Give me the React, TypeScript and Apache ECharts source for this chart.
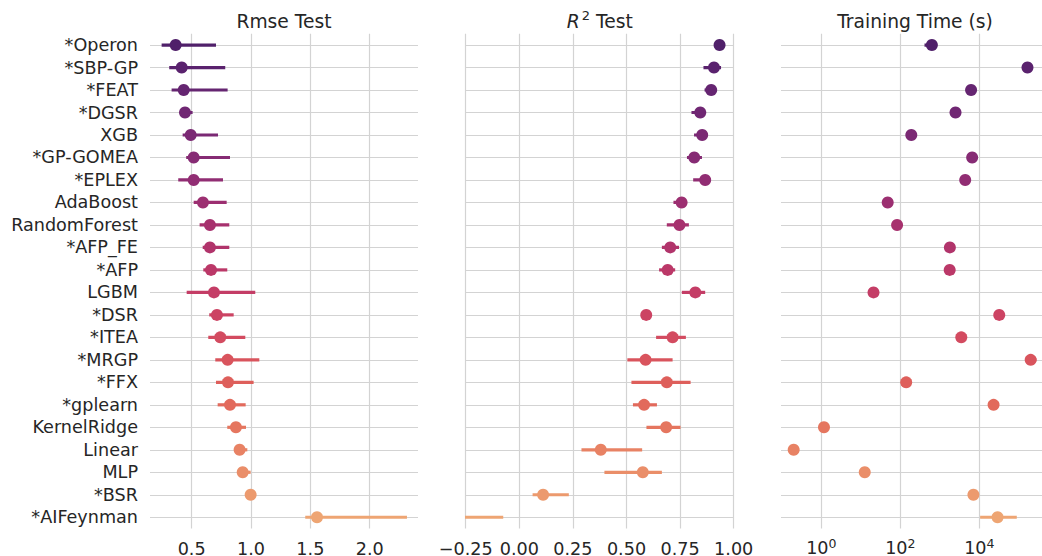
import React, { useEffect, useRef } from 'react';
import * as echarts from 'echarts';

const methods = ['*Operon', '*SBP-GP', '*FEAT', '*DGSR', 'XGB', '*GP-GOMEA', '*EPLEX', 'AdaBoost', 'RandomForest', '*AFP_FE', '*AFP', 'LGBM', '*DSR', '*ITEA', '*MRGP', '*FFX', '*gplearn', 'KernelRidge', 'Linear', 'MLP', '*BSR', '*AIFeynman'];
const rowIndex = [0, 1, 2, 3, 4, 5, 6, 7, 8, 9, 10, 11, 12, 13, 14, 15, 16, 17, 18, 19, 20, 21];

const rmseMid = [0.365, 0.416, 0.433, 0.444, 0.492, 0.517, 0.517, 0.595, 0.654, 0.654, 0.663, 0.688, 0.713, 0.741, 0.803, 0.806, 0.823, 0.873, 0.904, 0.93, 0.997, 1.556];
const rmseLow = [0.247, 0.311, 0.331, 0.416, 0.424, 0.454, 0.387, 0.517, 0.567, 0.593, 0.598, 0.458, 0.648, 0.64, 0.699, 0.705, 0.719, 0.8, 0.879, 0.885, 0.99, 1.457];
const rmseHigh = [0.705, 0.783, 0.803, 0.508, 0.722, 0.823, 0.764, 0.795, 0.817, 0.817, 0.8, 1.036, 0.854, 0.952, 1.07, 1.022, 0.955, 0.958, 0.969, 0.997, 1.0, 2.314];

const r2Mid = [0.934, 0.908, 0.895, 0.844, 0.853, 0.816, 0.867, 0.757, 0.747, 0.704, 0.692, 0.821, 0.592, 0.715, 0.589, 0.688, 0.582, 0.685, 0.38, 0.576, 0.111, -0.6];
const r2Low = [0.925, 0.859, 0.864, 0.803, 0.815, 0.782, 0.811, 0.719, 0.688, 0.665, 0.652, 0.758, 0.585, 0.638, 0.504, 0.523, 0.53, 0.593, 0.29, 0.397, 0.062, -1.3];
const r2High = [0.94, 0.941, 0.919, 0.867, 0.878, 0.852, 0.894, 0.782, 0.791, 0.745, 0.727, 0.867, 0.6, 0.777, 0.715, 0.799, 0.642, 0.752, 0.573, 0.665, 0.231, -0.075];

const timeMid = [630, 166000, 6200, 2500, 190, 6600, 4400, 48, 83, 1800, 1780, 21, 32000, 3500, 200000, 141, 23000, 1.17, 0.2, 12.6, 7100, 29000];
const timeLow = [410, 150000, 5800, 2300, 180, 6200, 4100, 45, 79, 1700, 1700, 20, 30000, 3300, 178000, 135, 21500, 1.1, 0.19, 12, 6800, 10500];
const timeHigh = [800, 180000, 6600, 2700, 200, 7000, 4700, 51, 88, 1900, 1860, 22, 34000, 3700, 280000, 148, 24500, 1.25, 0.21, 13.2, 7400, 89000];

const rmseTicks = [0.5, 1.0, 1.5, 2.0];
const r2Ticks = [-0.25, 0, 0.25, 0.5, 0.75, 1.0];
const timeTicks = [1, 100, 10000];

const palette = ['#50206a', '#5a226e', '#652571', '#702773', '#7b2974', '#862b74', '#912d73', '#9c2f71', '#a7316e', '#b1346b', '#bb3868', '#c43d66', '#cc4363', '#d34b60', '#d9545d', '#de5f5b', '#e26a5c', '#e5765f', '#e88264', '#ea8e69', '#ec9a6e', '#eea573'];

const FONT = '"DejaVu Sans", sans-serif';
const TXT = '#262626';
const GRIDC = '#d3d3d3';

export default function App() {
  const ref = useRef<HTMLDivElement>(null);
  useEffect(() => {
    if (!ref.current) return;
    const chart = echarts.init(ref.current, undefined, { renderer: 'svg' });
    const lefts = [150, 465.7, 781];
    const grids = lefts.map((left) => ({ left, top: 33.8, width: 268, height: 494.7, containLabel: false, outerBoundsMode: 'none' }));
    const splitLine = { show: true, lineStyle: { color: GRIDC, width: 1.2 } };
    const labelBase = { fontSize: 17.6, color: TXT, fontFamily: FONT };
    const xAxes: any[] = [
      {
        gridIndex: 0, type: 'value', min: 0.149, max: 2.407,
        axisLine: { show: false }, axisTick: { show: false, customValues: rmseTicks },
        axisLabel: { ...labelBase, margin: 11, customValues: rmseTicks, formatter: (v: number) => v.toFixed(1) },
        splitLine,
      },
      {
        gridIndex: 1, type: 'value', min: -0.25, max: 1.0,
        axisLine: { show: false }, axisTick: { show: false, customValues: r2Ticks },
        axisLabel: { ...labelBase, margin: 11, customValues: r2Ticks, formatter: (v: number) => v.toFixed(2).replace('-', '\u2212') },
        splitLine,
      },
      {
        gridIndex: 2, type: 'log', logBase: 10, min: 0.0955, max: 582000,
        axisLine: { show: false }, axisTick: { show: false, customValues: timeTicks },
        axisLabel: {
          ...labelBase, margin: 8, customValues: timeTicks,
          formatter: (v: number) => '{b|10}{s|' + Math.round(Math.log10(v)) + '}',
          rich: {
            b: { fontSize: 17.6, color: TXT, fontFamily: FONT, lineHeight: 22 },
            s: { fontSize: 12.5, color: TXT, fontFamily: FONT, lineHeight: 12, verticalAlign: 'top' },
          },
        },
        splitLine,
      },
    ];
    const yAxes: any[] = [0, 1, 2].map((k) => ({
      gridIndex: k, type: 'value', inverse: true, min: -0.5, max: 21.5,
      axisLine: { show: false }, axisTick: { show: false, customValues: rowIndex },
      axisLabel: { ...labelBase, show: k === 0, margin: 12, customValues: rowIndex, formatter: (v: number) => methods[Math.round(v)] },
      splitLine,
    }));

    const panels = [
      { mid: rmseMid, low: rmseLow, high: rmseHigh },
      { mid: r2Mid, low: r2Low, high: r2High },
      { mid: timeMid, low: timeLow, high: timeHigh },
    ];
    const series: any[] = [];
    panels.forEach((p, k) => {
      series.push({
        type: 'custom', xAxisIndex: k, yAxisIndex: k, clip: true, z: 2,
        encode: { x: [0, 1], y: 2 },
        data: rowIndex.map((i) => [p.low[i], p.high[i], i]),
        renderItem: (params: any, api: any) => {
          const a = api.coord([api.value(0), api.value(2)]);
          const b = api.coord([api.value(1), api.value(2)]);
          return {
            type: 'line',
            shape: { x1: a[0], y1: a[1], x2: b[0], y2: b[1] },
            style: { stroke: palette[params.dataIndex], lineWidth: 3.2, lineCap: 'butt' },
          };
        },
      });
      series.push({
        type: 'scatter', xAxisIndex: k, yAxisIndex: k, clip: true, z: 3,
        symbol: 'circle', symbolSize: 12,
        data: rowIndex.map((i) => [p.mid[i], i]),
        itemStyle: { opacity: 1, color: (q: any) => palette[q.dataIndex] },
      });
    });

    const titleStyle = { font: '18.7px ' + FONT, fill: TXT, textAlign: 'center', textVerticalAlign: 'middle' };
    chart.setOption({
      animation: false,
      grid: grids,
      xAxis: xAxes,
      yAxis: yAxes,
      series,
      graphic: [
        { type: 'text', x: lefts[0] + 134, y: 21, style: { ...titleStyle, text: 'Rmse Test' } },
        {
          type: 'text', x: lefts[1] + 134, y: 21,
          style: {
            ...titleStyle,
            text: '{i|R}{s|2}{n| Test}',
            rich: {
              i: { fontSize: 18.7, fontFamily: FONT, fontStyle: 'italic', fill: TXT, lineHeight: 24 },
              s: { fontSize: 13, fontFamily: FONT, fill: TXT, lineHeight: 13, verticalAlign: 'top', padding: [0, 0, 0, 2] },
              n: { fontSize: 18.7, fontFamily: FONT, fill: TXT, lineHeight: 24 },
            },
          },
        },
        { type: 'text', x: lefts[2] + 134, y: 21, style: { ...titleStyle, text: 'Training Time (s)' } },
      ],
    });
    return () => chart.dispose();
  }, []);
  return <div ref={ref} style={{ position: 'absolute', left: 0, top: 0, width: 1042, height: 556 }} />;
}
